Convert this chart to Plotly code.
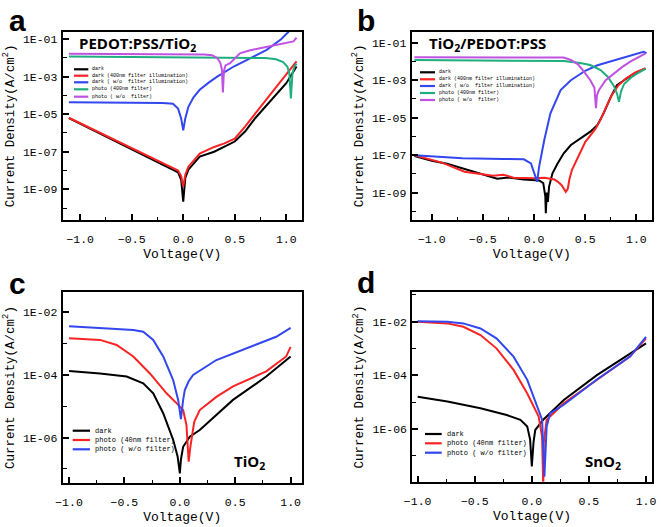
import plotly.graph_objects as go

W, H = 661, 527

# ---------------- Panel a : PEDOT:PSS/TiO2 ----------------
a_dark_v = [-1.11, -0.8, -0.5, -0.16, -0.05, -0.02, 0.0, 0.02, 0.05, 0.16, 0.3, 0.5, 0.6, 0.7, 0.8, 0.9, 1.0, 1.1]
a_dark_j = [6.2e-6, 8.9e-7, 1.35e-7, 1.6e-8, 8e-9, 3.2e-9, 2.2e-10, 4e-9, 1.1e-8, 5.5e-8, 1.0e-7, 3.5e-7, 1.2e-6, 6.3e-6, 2.5e-5, 1.07e-4, 4.5e-4, 3.5e-3]
a_dark400_v = [-1.11, -0.8, -0.5, -0.16, -0.05, -0.02, 0.0, 0.02, 0.05, 0.16, 0.3, 0.4, 0.5, 0.6, 0.7, 0.8, 0.9, 1.0, 1.1]
a_dark400_j = [6.5e-6, 1.0e-6, 1.6e-7, 2.0e-8, 1e-8, 5e-9, 1.4e-9, 6e-9, 1.6e-8, 8e-8, 1.8e-7, 2.8e-7, 5e-7, 2.2e-6, 1.1e-5, 5.8e-5, 2.5e-4, 1.25e-3, 6.5e-3]
a_darkwo_v = [-1.11, -0.5, -0.2, -0.1, -0.05, -0.02, 0.0, 0.02, 0.05, 0.1, 0.16, 0.25, 0.33, 0.49, 0.65, 0.81, 0.95, 1.0, 1.05, 1.1]
a_darkwo_j = [4.4e-5, 4.2e-5, 4.0e-5, 3.6e-5, 2.0e-5, 6e-6, 1.4e-6, 6e-6, 2.5e-5, 8e-5, 2e-4, 5e-4, 1e-3, 3.5e-3, 1e-2, 2.7e-2, 1e-1, 0.2, 0.35, 0.4]
a_photo400_v = [-1.11, -0.5, 0.0, 0.5, 0.8, 0.9, 0.97, 1.01, 1.03, 1.045, 1.06, 1.08, 1.1]
a_photo400_j = [1.2e-2, 1.15e-2, 1.1e-2, 1.05e-2, 9.8e-3, 8.5e-3, 6e-3, 3.5e-3, 1.5e-3, 7e-5, 1.5e-3, 3.5e-3, 5e-3]
a_photowo_v = [-1.11, -0.5, 0.0, 0.2, 0.28, 0.33, 0.36, 0.375, 0.385, 0.395, 0.41, 0.455, 0.55, 0.65, 0.745, 0.85, 0.97, 1.07, 1.1]
a_photowo_j = [1.66e-2, 1.65e-2, 1.6e-2, 1.55e-2, 1.4e-2, 1.0e-2, 5.5e-3, 2.5e-3, 1.45e-4, 2e-3, 4e-3, 5.2e-3, 1.78e-2, 2.6e-2, 3.3e-2, 4.3e-2, 5.6e-2, 7.6e-2, 1.23e-1]

# ---------------- Panel b : TiO2/PEDOT:PSS ----------------
b_dark_v = [-1.17, -1.0, -0.85, -0.7, -0.55, -0.36, -0.25, -0.1, 0.05, 0.09, 0.11, 0.115, 0.125, 0.135, 0.147, 0.18, 0.23, 0.29, 0.36, 0.46, 0.55, 0.62, 0.68, 0.75, 0.81, 0.88, 0.98, 1.09]
b_dark_j = [9.1e-8, 5e-8, 3.5e-8, 2e-8, 1.2e-8, 5.6e-9, 6.5e-9, 5e-9, 4.5e-9, 3.2e-9, 6.3e-10, 7.9e-11, 1e-9, 3.2e-10, 2.1e-9, 1.07e-8, 3.6e-8, 1.26e-7, 3.5e-7, 7.9e-7, 1.8e-6, 4.1e-6, 1.7e-5, 1.3e-4, 5.5e-4, 1.0e-3, 2.3e-3, 4.3e-3]
b_dark400_v = [-1.17, -0.9, -0.68, -0.5, -0.4, -0.3, -0.2, 0.0, 0.1, 0.2, 0.23, 0.27, 0.3, 0.31, 0.33, 0.345, 0.37, 0.42, 0.5, 0.6, 0.65, 0.7, 0.76, 0.82, 0.9, 1.0, 1.09]
b_dark400_j = [1.0e-7, 4e-8, 1.3e-8, 1.0e-8, 7.9e-9, 9e-9, 6.3e-9, 5.8e-9, 6.3e-9, 5e-9, 3.9e-9, 2.5e-9, 1.26e-9, 1.1e-9, 1.6e-9, 5e-9, 1.6e-8, 6.3e-8, 5e-7, 2.5e-6, 7.9e-6, 3.2e-5, 1.6e-4, 5e-4, 1.26e-3, 2.8e-3, 4.3e-3]
b_darkwo_v = [-1.17, -0.9, -0.7, -0.3, -0.1, -0.03, 0.0, 0.03, 0.05, 0.1, 0.16, 0.26, 0.36, 0.5, 0.62, 0.8, 0.94, 1.07, 1.1]
b_darkwo_j = [1e-7, 7.9e-8, 6.8e-8, 6.3e-8, 6e-8, 3.6e-8, 1.26e-8, 3.9e-9, 2.5e-8, 6.5e-7, 1.7e-5, 3e-4, 1e-3, 3.2e-3, 6.3e-3, 1.26e-2, 2.2e-2, 3.3e-2, 2.8e-2]
b_photo400_v = [-1.17, -0.5, 0.0, 0.29, 0.45, 0.55, 0.65, 0.72, 0.78, 0.81, 0.83, 0.85, 0.88, 0.95, 1.01, 1.09]
b_photo400_j = [1.2e-2, 1.15e-2, 1.1e-2, 1.05e-2, 8.3e-3, 6.5e-3, 3.5e-3, 1.55e-3, 5e-4, 2e-4, 7e-5, 2.5e-4, 6.3e-4, 1.4e-3, 2.3e-3, 4e-3]
b_photowo_v = [-1.17, -0.5, 0.0, 0.29, 0.36, 0.43, 0.49, 0.55, 0.59, 0.605, 0.615, 0.635, 0.7, 0.78, 0.86, 0.94, 1.09]
b_photowo_j = [1.66e-2, 1.66e-2, 1.66e-2, 1.62e-2, 1.2e-2, 7e-3, 2.8e-3, 1e-3, 4e-4, 3.2e-5, 1.6e-4, 3e-4, 1e-3, 2.3e-3, 5e-3, 9.8e-3, 2.7e-2]

# ---------------- Panel c : TiO2 ----------------
c_dark_v = [-1.0, -0.72, -0.48, -0.33, -0.24, -0.15, -0.06, -0.02, 0.0, 0.01, 0.03, 0.09, 0.18, 0.48, 0.78, 1.0]
c_dark_j = [1.35e-4, 1.12e-4, 8.9e-5, 5.4e-5, 2.6e-5, 6e-6, 8.5e-7, 2.5e-7, 7.2e-8, 2e-7, 5.1e-7, 1.07e-6, 1.74e-6, 1.6e-5, 8.9e-5, 3.9e-4]
c_photo40_v = [-1.0, -0.72, -0.57, -0.42, -0.27, -0.12, -0.03, 0.03, 0.06, 0.08, 0.095, 0.105, 0.13, 0.18, 0.33, 0.48, 0.78, 0.96, 1.0]
c_photo40_j = [1.48e-3, 1.32e-3, 9.1e-4, 3.9e-4, 1.12e-4, 2.6e-5, 1.26e-5, 7.6e-6, 2.5e-6, 1.7e-7, 5e-7, 8.5e-7, 3.2e-6, 7.6e-6, 2e-5, 4.3e-5, 1.3e-4, 3.9e-4, 7.9e-4]
c_photowo_v = [-1.0, -0.72, -0.42, -0.33, -0.24, -0.15, -0.06, -0.015, 0.01, 0.03, 0.045, 0.08, 0.12, 0.33, 0.63, 0.87, 1.0]
c_photowo_j = [3.6e-3, 3.2e-3, 2.75e-3, 2.4e-3, 1.32e-3, 3.9e-4, 6.9e-5, 1.6e-5, 3.9e-6, 1.6e-5, 3.3e-5, 6.3e-5, 1e-4, 3e-4, 7.9e-4, 1.66e-3, 3.2e-3]

# ---------------- Panel d : SnO2 ----------------
d_dark_v = [-1.0, -0.74, -0.45, -0.22, -0.1, -0.04, -0.015, 0.0, 0.015, 0.03, 0.1, 0.28, 0.57, 0.86, 1.0]
d_dark_j = [1.6e-5, 1.05e-5, 5.9e-6, 3.3e-6, 2.2e-6, 1.23e-6, 4e-7, 4e-8, 3.2e-7, 9.1e-7, 2.2e-6, 1.2e-5, 1.02e-4, 6.6e-4, 1.55e-3]
d_photo40_v = [-1.0, -0.74, -0.6, -0.45, -0.31, -0.16, -0.04, 0.06, 0.09, 0.1, 0.105, 0.13, 0.28, 0.57, 0.86, 1.0]
d_photo40_j = [1e-2, 8.7e-3, 6.5e-3, 3.2e-3, 1.02e-3, 1.6e-4, 2.1e-5, 2.9e-6, 5e-7, 6.3e-9, 3.2e-7, 2.2e-6, 9.1e-6, 6.8e-5, 5e-4, 2.4e-3]
d_photowo_v = [-1.0, -0.74, -0.6, -0.45, -0.31, -0.16, -0.04, 0.04, 0.09, 0.11, 0.12, 0.13, 0.16, 0.28, 0.57, 0.86, 1.0]
d_photowo_j = [1.05e-2, 1e-2, 8.7e-3, 5.6e-3, 2.4e-3, 5e-4, 6.8e-5, 9.1e-6, 2.2e-6, 1.66e-8, 3.2e-7, 1.23e-6, 3.8e-6, 8e-6, 7e-5, 5e-4, 2.75e-3]

legend_ab = ["dark", "dark (400nm filter illumination)", "dark ( w/o  filter illumination)",
             "photo (400nm filter)", "photo ( w/o  filter)"]
legend_cd = ["dark", "photo (40nm filter)", "photo ( w/o filter)"]

BLACK, RED, BLUE, GREEN, PURPLE = "#000000", "#fa2323", "#3347ee", "#1fae7e", "#c052e2"
colors_ab = [BLACK, RED, BLUE, GREEN, PURPLE]
colors_cd = [BLACK, RED, BLUE]

panels = [
    dict(name="a", series=[(a_dark_v, a_dark_j), (a_dark400_v, a_dark400_j), (a_darkwo_v, a_darkwo_j),
                           (a_photo400_v, a_photo400_j), (a_photowo_v, a_photowo_j)],
         labels=legend_ab, colors=colors_ab,
         px=(62.7, 301.7), py=(31.7, 220.0), xr=[-1.17, 1.15], yr=[-10.64, -0.6],
         yt=[1e-1, 1e-3, 1e-5, 1e-7, 1e-9], ytt=["1E-01", "1E-03", "1E-05", "1E-07", "1E-09"],
         ym=[1e-2, 1e-4, 1e-6, 1e-8, 1e-10]),
    dict(name="b", series=[(b_dark_v, b_dark_j), (b_dark400_v, b_dark400_j), (b_darkwo_v, b_darkwo_j),
                           (b_photo400_v, b_photo400_j), (b_photowo_v, b_photowo_j)],
         labels=legend_ab, colors=colors_ab,
         px=(411.7, 651.7), py=(31.7, 220.0), xr=[-1.196, 1.15], yr=[-10.46, -0.41],
         yt=[1e-1, 1e-3, 1e-5, 1e-7, 1e-9], ytt=["1E-01", "1E-03", "1E-05", "1E-07", "1E-09"],
         ym=[1e-2, 1e-4, 1e-6, 1e-8, 1e-10]),
    dict(name="c", series=[(c_dark_v, c_dark_j), (c_photo40_v, c_photo40_j), (c_photowo_v, c_photowo_j)],
         labels=legend_cd, colors=colors_cd,
         px=(62.7, 301.7), py=(292.3, 482.7), xr=[-1.057, 1.1], yr=[-7.44, -1.36],
         yt=[1e-2, 1e-4, 1e-6], ytt=["1E-02", "1E-04", "1E-06"],
         ym=[1e-3, 1e-5, 1e-7]),
    dict(name="d", series=[(d_dark_v, d_dark_j), (d_photo40_v, d_photo40_j), (d_photowo_v, d_photowo_j)],
         labels=legend_cd, colors=colors_cd,
         px=(412.3, 651.7), py=(292.3, 481.7), xr=[-1.047, 1.05], yr=[-7.97, -0.9],
         yt=[1e-2, 1e-4, 1e-6], ytt=["1E-02", "1E-04", "1E-06"],
         ym=[1e-1, 1e-3, 1e-5, 1e-7]),
]

MONO = "Liberation Mono"
fig = go.Figure()
layout = dict(width=W, height=H, margin=dict(l=0, r=0, t=0, b=0, autoexpand=False),
              paper_bgcolor="white", plot_bgcolor="white", showlegend=False)

for i, p in enumerate(panels):
    k = "" if i == 0 else str(i + 1)
    for (v, j), c in zip(p["series"], p["colors"]):
        fig.add_trace(go.Scatter(x=v, y=j, mode="lines", line=dict(color=c, width=2),
                                 xaxis="x" + k, yaxis="y" + k, showlegend=False))
    xd = [p["px"][0] / W, p["px"][1] / W]
    yd = [1 - p["py"][1] / H, 1 - p["py"][0] / H]
    layout["xaxis" + k] = dict(
        domain=xd, anchor="y" + k, range=p["xr"], showgrid=False, zeroline=False, automargin=False,
        showline=True, linecolor="black", linewidth=2, mirror=True,
        ticks="inside", ticklen=6, tickwidth=1.5, tickcolor="black",
        tick0=0, dtick=0.5, tickformat=".1f", ticklabelstandoff=7,
        minor=dict(ticks="inside", ticklen=3, tickwidth=1.2, tickcolor="black", dtick=0.25, tick0=0),
        tickfont=dict(family=MONO, size=11.5, color="black"),
        title=dict(text="Voltage(V)", font=dict(family=MONO, size=13, color="black"), standoff=4))
    layout["yaxis" + k] = dict(
        domain=yd, anchor="x" + k, type="log", range=p["yr"], showgrid=False, zeroline=False, automargin=False,
        showline=True, linecolor="black", linewidth=2, mirror=True,
        ticks="inside", ticklen=6, tickwidth=1.5, tickcolor="black",
        tickmode="array", tickvals=p["yt"], ticktext=p["ytt"], ticklabelstandoff=1,
        minor=dict(ticks="inside", ticklen=4, tickwidth=1.2, tickcolor="black", tickmode="array", tickvals=p["ym"]),
        tickfont=dict(family=MONO, size=11.5, color="black"),
        title=dict(text="Current Density(A/cm<sup>2</sup>)", font=dict(family=MONO, size=12.5, color="black"),
                   standoff=6))

fig.update_layout(**layout)

# panel letters
for txt, x, y in [("a", 17, 20), ("b", 366, 20), ("c", 17, 283), ("d", 366, 282)]:
    fig.add_annotation(text="<b>%s</b>" % txt, x=x / W, y=1 - y / H, xref="paper", yref="paper",
                       showarrow=False, xanchor="center", yanchor="middle",
                       font=dict(family="Liberation Sans", size=30, color="black"))

# sample names inside plots
for txt, x, y in [("PEDOT:PSS/TiO<sub>2</sub>", 137, 44), ("TiO<sub>2</sub>/PEDOT:PSS", 487, 44),
                  ("TiO<sub>2</sub>", 250, 462), ("SnO<sub>2</sub>", 603, 462)]:
    fig.add_annotation(text="<b>%s</b>" % txt, x=x / W, y=1 - y / H, xref="paper", yref="paper",
                       showarrow=False, xanchor="center", yanchor="middle",
                       font=dict(family="Open Sans", size=15, color="black"))

# hand-placed legends
legend_boxes = [
    (legend_ab, colors_ab, 74, 88.3, 90, [69.3, 75.7, 82.3, 89.3, 96.7], 5),
    (legend_ab, colors_ab, 420, 435, 437, [72.3, 79.3, 86.0, 93.0, 100.0], 5),
    (legend_cd, colors_cd, 72.7, 90, 93, [430.7, 440.0, 449.3], 7),
    (legend_cd, colors_cd, 425, 441.7, 445, [434.0, 443.3, 452.7], 7),
]
for labels, cols, x0, x1, xt, ys, fs in legend_boxes:
    for lab, col, yy in zip(labels, cols, ys):
        fig.add_shape(type="line", xref="paper", yref="paper", x0=x0 / W, x1=x1 / W,
                      y0=1 - yy / H, y1=1 - yy / H, line=dict(color=col, width=2.2))
        fig.add_annotation(text=lab, x=xt / W, y=1 - yy / H, xref="paper", yref="paper",
                           showarrow=False, xanchor="left", yanchor="middle",
                           font=dict(family=MONO, size=fs, color="black"))

fig.write_html("out.html", config={"displayModeBar": False},
               post_script="document.body.style.margin='0px';document.body.style.overflow='hidden';")
